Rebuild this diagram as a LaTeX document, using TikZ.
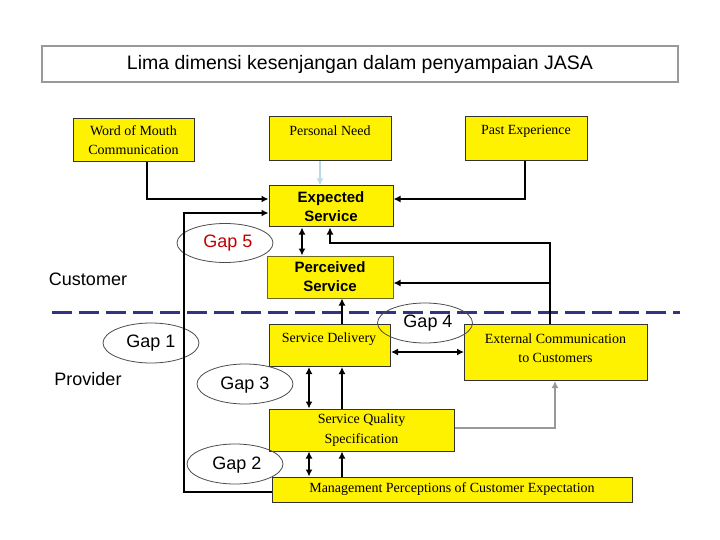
\documentclass[tikz,border=0pt]{standalone}
\usepackage{fontspec}
\setmainfont{Liberation Serif}
\newfontfamily\arial{Liberation Sans}
\usetikzlibrary{arrows.meta,shapes.geometric}
\begin{document}
\begin{tikzpicture}[x=1pt,y=-1pt,
  ybox/.style={draw=black!80,fill=yellow,line width=1pt,inner sep=0pt,align=center,font=\fontsize{14}{19.5}\selectfont},
  sbox/.style={ybox,font=\arial\bfseries\fontsize{15}{19}\selectfont},
  gap/.style={draw=black!70,ellipse,line width=0.8pt},
  gaptxt/.style={font=\arial\fontsize{18}{21}\selectfont},
  conn/.style={line width=2pt,-{Latex[length=7pt,width=7pt]}},
  dconn/.style={line width=2pt,{Latex[length=7pt,width=7pt]}-{Latex[length=7pt,width=7pt]}},
  gconn/.style={line width=2pt,draw=gray!80,-{Latex[length=7pt,width=7pt]}}]
\useasboundingbox[fill=white] (0,0) rectangle (720,540);
\node[draw=black!40,line width=2pt,minimum width=636pt,minimum height=36pt,font=\arial\fontsize{19.5}{23}\selectfont] (title) at (360,64) {Lima dimensi kesenjangan dalam penyampaian JASA};
% boxes
\node[ybox,minimum width=121pt,minimum height=43pt] (wom) at (133.5,140) {Word of Mouth\\Communication};
\node[ybox,minimum width=122pt,minimum height=44pt,anchor=north west] (pn) at (269,116) {};
\node (pnt) at (330,131) {\fontsize{14}{17}\selectfont Personal Need};
\node[ybox,minimum width=122pt,minimum height=44pt,anchor=north west] (pe) at (465,116) {};
\node (pet) at (526,131) {\fontsize{14}{17}\selectfont Past Experience};
\node[sbox,minimum width=124pt,minimum height=41pt] (es) at (331,206.5) {Expected\\Service};
\node[sbox,draw=olive!70!black,minimum width=126pt,minimum height=42pt] (ps) at (330,277) {Perceived\\Service};
\node[ybox,minimum width=121pt,minimum height=42pt,anchor=north west] (sd) at (269,324) {};
\node (sdt) at (329,339) {\fontsize{14}{17}\selectfont Service Delivery};
\node[ybox,minimum width=183pt,minimum height=56pt,anchor=north west] (ec) at (464,324) {};
\node[align=center,font=\fontsize{14}{19.5}\selectfont] (ect) at (555.5,348) {External Communication\\to Customers};
\node[ybox,minimum width=185pt,minimum height=42pt] (sq) at (361.5,430) {Service Quality\\Specification};
\node[ybox,minimum width=360pt,minimum height=25pt] (mp) at (452,489.5) {Management Perceptions of Customer Expectation};
% gaps
\node[gap,minimum width=96pt,minimum height=39pt] (g5) at (225,243) {};
\node[gaptxt,text=red!75!black] (g5t) at (228,243) {Gap 5};
\node[gap,minimum width=96pt,minimum height=40pt] (g1) at (151,343) {};
\node[gaptxt] (g1t) at (151,343) {Gap 1};
\node[gap,minimum width=96pt,minimum height=40pt] (g3) at (245,384) {};
\node[gaptxt] (g3t) at (245,385) {Gap 3};
\node[gap,minimum width=96pt,minimum height=40pt] (g2) at (235,464) {};
\node[gaptxt] (g2t) at (237,465) {Gap 2};
% labels
\node[font=\arial\fontsize{18}{21}\selectfont] (cust) at (88,279) {Customer};
\node[font=\arial\fontsize{18}{21}\selectfont] (prov) at (88,379) {Provider};
% dashed line
\coordinate (dl) at (52,312); \coordinate (dr) at (680,312);
\draw[draw=blue!40!black!80,line width=3pt,dash pattern=on 20pt off 7pt] (dl) -- (dr);
% connectors
\draw[conn] (wom.south -| 147,0) |- (es.west |- 0,199);
\draw[conn] (mp.west |- 0,492) -| (184,213) -- (es.west |- 0,213);
\draw[conn,draw=gray!50!cyan!40] (pn.south -| 320,0) -- (es.north -| 320,0);
\draw[conn] (pe.south -| 525,0) |- (es.east |- 0,199);
\draw[dconn] (es.south -| 302,0) -- (ps.north -| 302,0);
\draw[conn] (ec.north -| 550,0) -- (550,243) -| (es.south -| 330,0);
\draw[conn] (550,283) -- (ps.east |- 0,283);
\draw[conn] (sd.north -| 342,0) -- (ps.south -| 342,0);
\draw[dconn] (sd.east |- 0,352) -- (ec.west |- 0,352);
\draw[dconn] (sd.south -| 309,0) -- (sq.north -| 309,0);
\draw[conn] (sq.north -| 342,0) -- (sd.south -| 342,0);
\draw[dconn] (sq.south -| 309,0) -- (mp.north -| 309,0);
\draw[conn] (mp.north -| 342,0) -- (sq.south -| 342,0);
\draw[gconn] (sq.east |- 0,428) -| (ec.south -| 555,0);
% Gap 4 drawn on top
\node[gap,minimum width=95pt,minimum height=40pt] (g4) at (425,323) {};
\node[gaptxt] (g4t) at (428,323) {Gap 4};
\end{tikzpicture}
\end{document}
